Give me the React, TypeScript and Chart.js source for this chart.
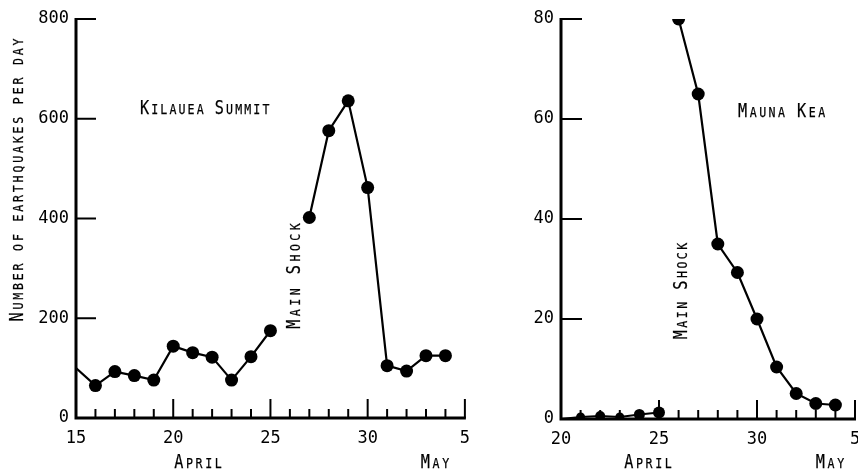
import React, { useEffect, useRef } from "react";
import { Chart, registerables } from "chart.js";

Chart.register(...registerables);

// ---- data ----
const leftDays = [15, 16, 17, 18, 19, 20, 21, 22, 23, 24, 25, 26, 27, 28, 29, 30, 31, 32, 33, 34];
const leftCounts = [100, 65, 93, 85, 76, 144, 131, 122, 76, 123, 175, null, 402, 576, 636, 462, 105, 94, 125, 125];
const leftRadii = [0, 6.5, 6.5, 6.5, 6.5, 6.5, 6.5, 6.5, 6.5, 6.5, 6.5, 0, 6.5, 6.5, 6.5, 6.5, 6.5, 6.5, 6.5, 6.5];

const rightPreDays = [20, 21, 22, 23, 24, 25];
const rightPreCounts = [0, 0.4, 0.6, 0.4, 0.9, 1.3];
const rightPreRadii = [0, 4.5, 5, 4.5, 5.5, 6];
const rightPostDays = [26, 27, 28, 29, 30, 31, 32, 33, 34];
const rightPostCounts = [80, 65, 35, 29.3, 20, 10.4, 5.1, 3.1, 2.8];

const leftYTicks = { min: 0, max: 800, step: 200 };
const rightYTicks = { min: 0, max: 80, step: 20 };
const leftXRange = { min: 15, max: 35 };
const rightXRange = { min: 20, max: 35 };

const dayLabel = (v: number) => (v > 30 ? String(v - 30) : String(v));

const FONT = "'DejaVu Sans Mono', monospace";
const COND = 0.8;

function drawSC(
  ctx: CanvasRenderingContext2D,
  text: string,
  x: number,
  y: number,
  big: number,
  small: number,
  sp: number,
  align: "left" | "center"
) {
  const parts = [...text].map((ch) => {
    const up = ch.toUpperCase();
    const isBig = /[A-Z]/.test(ch);
    const size = isBig ? big : small;
    ctx.font = `${size}px ${FONT}`;
    const w = (ch === " " ? ctx.measureText("M").width : ctx.measureText(up).width) * COND;
    return { up, size, w };
  });
  const total = parts.reduce((s, p) => s + p.w, 0) + sp * (parts.length - 1);
  let cx = align === "center" ? x - total / 2 : x;
  ctx.fillStyle = "#000";
  ctx.strokeStyle = "#000";
  ctx.lineWidth = 0.25;
  ctx.textBaseline = "alphabetic";
  ctx.textAlign = "left";
  for (const p of parts) {
    if (p.up !== " ") {
      ctx.save();
      ctx.font = `${p.size}px ${FONT}`;
      ctx.translate(cx, y);
      ctx.scale(COND, 1);
      ctx.fillText(p.up, 0, 0);
      ctx.strokeText(p.up, 0, 0);
      ctx.restore();
    }
    cx += p.w + sp;
  }
}

type Ann = {
  text: string;
  x: number;
  y: number;
  rot?: boolean;
  align: "left" | "center";
  big: number;
  small: number;
  sp: number;
};

function makePlugin(yStep: number, tickLenY: number, anns: Ann[]) {
  return {
    id: "custom",
    beforeDatasetsDraw(chart: any) {
      const ctx = chart.ctx as CanvasRenderingContext2D;
      const xs = chart.scales.x;
      const ys = chart.scales.y;
      const left = xs.getPixelForValue(xs.min);
      const right = xs.getPixelForValue(xs.max);
      const bottom = ys.getPixelForValue(ys.min);
      const top = ys.getPixelForValue(ys.max);
      ctx.save();
      ctx.strokeStyle = "#000";
      ctx.lineCap = "butt";
      ctx.lineWidth = 2;
      for (let d = xs.min + 1; d <= xs.max; d++) {
        const px = xs.getPixelForValue(d);
        const len = d % 5 === 0 ? 19 : 9;
        ctx.beginPath();
        ctx.moveTo(px, bottom);
        ctx.lineTo(px, bottom - len);
        ctx.stroke();
      }
      for (let v = ys.min + yStep; v <= ys.max; v += yStep) {
        const py = ys.getPixelForValue(v);
        ctx.beginPath();
        ctx.moveTo(left, py);
        ctx.lineTo(left + tickLenY, py);
        ctx.stroke();
      }
      ctx.lineWidth = 3;
      ctx.lineJoin = "miter";
      ctx.beginPath();
      ctx.moveTo(left, top - 1);
      ctx.lineTo(left, bottom);
      ctx.lineTo(right + 1, bottom);
      ctx.stroke();
      ctx.restore();
    },
    afterDraw(chart: any) {
      const ctx = chart.ctx as CanvasRenderingContext2D;
      for (const a of anns) {
        ctx.save();
        if (a.rot) {
          ctx.translate(a.x, a.y);
          ctx.rotate(-Math.PI / 2);
          drawSC(ctx, a.text, 0, a.big * 0.36, a.big, a.small, a.sp, "center");
        } else {
          drawSC(ctx, a.text, a.x, a.y, a.big, a.small, a.sp, a.align);
        }
        ctx.restore();
      }
    },
  };
}

function baseOptions(
  xr: { min: number; max: number },
  yr: { min: number; max: number; step: number },
  yWidth: number,
  xHeight: number,
  padRight: number
) {
  return {
    responsive: false,
    animation: false as const,
    layout: { padding: { top: 19, right: padRight, left: 0, bottom: 0 } },
    plugins: { legend: { display: false }, tooltip: { enabled: false } },
    scales: {
      x: {
        type: "linear" as const,
        min: xr.min,
        max: xr.max,
        grid: { display: false, drawTicks: false },
        border: { display: false },
        afterFit: (s: any) => {
          s.height = xHeight;
        },
        ticks: {
          stepSize: 5,
          padding: 10,
          color: "#000",
          font: { family: FONT, size: 17 },
          callback: (v: any) => dayLabel(Number(v)),
        },
      },
      y: {
        min: yr.min,
        max: yr.max,
        grid: { display: false, drawTicks: false },
        border: { display: false },
        afterFit: (s: any) => {
          s.width = yWidth;
        },
        ticks: {
          stepSize: yr.step,
          padding: 7,
          color: "#000",
          font: { family: FONT, size: 17 },
        },
      },
    },
  };
}

function LeftChart() {
  const ref = useRef<HTMLCanvasElement | null>(null);
  useEffect(() => {
    if (!ref.current) return;
    const anns: Ann[] = [
      { text: "Kilauea Summit", x: 140, y: 114, align: "left", big: 19, small: 14.5, sp: 2.1 },
      { text: "Main Shock", x: 293, y: 276, rot: true, align: "center", big: 19, small: 14.5, sp: 3.5 },
      { text: "Number of earthquakes per day", x: 16, y: 180, rot: true, align: "center", big: 19, small: 14.5, sp: 2.8 },
      { text: "April", x: 198, y: 468, align: "center", big: 19, small: 14.5, sp: 2.6 },
      { text: "May", x: 435, y: 468, align: "center", big: 19, small: 14.5, sp: 2.6 },
    ];
    const chart = new Chart(ref.current, {
      type: "line",
      data: {
        datasets: [
          {
            data: leftDays.map((d, i) => ({ x: d, y: leftCounts[i] as any })),
            borderColor: "#000",
            borderWidth: 2.2,
            backgroundColor: "#000",
            pointBackgroundColor: "#000",
            pointBorderWidth: 0,
            pointRadius: leftRadii,
            spanGaps: false,
            tension: 0,
          },
        ],
      },
      options: baseOptions(leftXRange, leftYTicks, 76, 54, 10) as any,
      plugins: [makePlugin(leftYTicks.step, 20, anns)],
    });
    return () => chart.destroy();
  }, []);
  return (
    <canvas
      ref={ref}
      width={480}
      height={472}
      style={{ position: "absolute", left: 0, top: 0, width: 480, height: 472 }}
    />
  );
}

function RightChart() {
  const ref = useRef<HTMLCanvasElement | null>(null);
  useEffect(() => {
    if (!ref.current) return;
    const anns: Ann[] = [
      { text: "Mauna Kea", x: 258, y: 117, align: "left", big: 19, small: 14.5, sp: 2.5 },
      { text: "Main Shock", x: 200, y: 291, rot: true, align: "center", big: 19, small: 14.5, sp: 2.5 },
      { text: "April", x: 168, y: 468, align: "center", big: 19, small: 14.5, sp: 2.6 },
      { text: "May", x: 350, y: 468, align: "center", big: 19, small: 14.5, sp: 2.6 },
    ];
    const common = {
      borderColor: "#000",
      borderWidth: 2.2,
      backgroundColor: "#000",
      pointBackgroundColor: "#000",
      pointBorderWidth: 0,
      tension: 0,
    };
    const chart = new Chart(ref.current, {
      type: "line",
      data: {
        datasets: [
          {
            ...common,
            data: rightPreDays.map((d, i) => ({ x: d, y: rightPreCounts[i] })),
            pointRadius: rightPreRadii,
          },
          {
            ...common,
            data: rightPostDays.map((d, i) => ({ x: d, y: rightPostCounts[i] })),
            pointRadius: 6.5,
          },
        ],
      },
      options: baseOptions(rightXRange, rightYTicks, 81, 53, 25) as any,
      plugins: [makePlugin(rightYTicks.step, 21, anns)],
    });
    return () => chart.destroy();
  }, []);
  return (
    <canvas
      ref={ref}
      width={400}
      height={472}
      style={{ position: "absolute", left: 480, top: 0, width: 400, height: 472 }}
    />
  );
}

export default function App() {
  return (
    <div
      style={{
        position: "fixed",
        left: 0,
        top: 0,
        width: 858,
        height: 472,
        overflow: "hidden",
        background: "#fff",
      }}
    >
      <LeftChart />
      <RightChart />
    </div>
  );
}
